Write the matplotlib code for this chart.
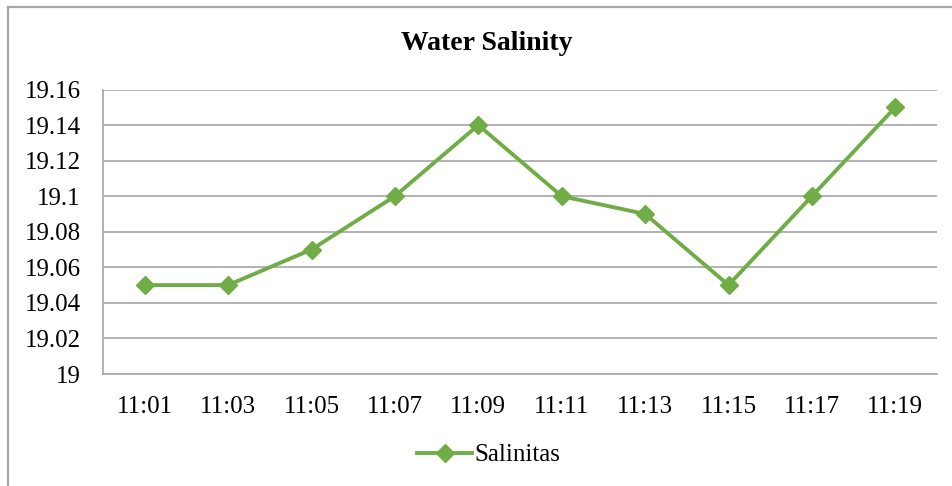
import numpy as np
import matplotlib
matplotlib.use('Agg')
from matplotlib import pyplot as plt
from matplotlib.lines import Line2D

times = ['11:01', '11:03', '11:05', '11:07', '11:09', '11:11', '11:13', '11:15', '11:17', '11:19']
salinity = [19.05, 19.05, 19.07, 19.1, 19.14, 19.1, 19.09, 19.05, 19.1, 19.15]
yticks = [19, 19.02, 19.04, 19.06, 19.08, 19.1, 19.12, 19.14, 19.16]
ylabels = ['19', '19.02', '19.04', '19.06', '19.08', '19.1', '19.12', '19.14', '19.16']

plt.rcParams['font.family'] = ['Liberation Serif', 'DejaVu Serif']

green = '#70AD47'
grid = '#A6A6A6'

fig = plt.figure(figsize=(9.53, 4.86), dpi=100)
ax = fig.add_axes([103 / 953, 1 - 374 / 486, 834 / 953, 284.5 / 486])

x = np.arange(len(times))
ax.plot(x, salinity, color=green, lw=2.8, marker='D', ms=9, label='Salinitas')

ax.set_xlim(-0.5, len(times) - 0.5)
ax.set_ylim(19, 19.16)
ax.set_yticks(yticks)
ax.set_yticklabels(ylabels)
ax.set_xticks(x)
ax.set_xticklabels(times)
ax.tick_params(axis='both', length=0, labelsize=18, colors='black')
ax.tick_params(axis='y', pad=16)
ax.tick_params(axis='x', pad=15.5)
ax.grid(axis='y', color=grid, lw=1.2)
ax.set_axisbelow(True)
for s in ['top', 'right']:
    ax.spines[s].set_visible(False)
for s in ['left', 'bottom']:
    ax.spines[s].set_color(grid)
    ax.spines[s].set_linewidth(1.2)

fig.text(487 / 953, 1 - 44 / 486, 'Water Salinity', ha='center', va='center',
         fontsize=20, fontweight='bold')

fig.legend(handles=[Line2D([], [], color=green, lw=2.8, marker='D', ms=9)],
           labels=['Salinitas'], loc='center', bbox_to_anchor=(489 / 953, 1 - 455 / 486),
           frameon=False, fontsize=18, handlelength=2.2, handletextpad=0.1)

# outer border
fig.add_artist(Line2D([8.5 / 953, 8.5 / 953], [0, 1 - 7.5 / 486], color='#A6A6A6', lw=1.6,
                      transform=fig.transFigure))
fig.add_artist(Line2D([8.5 / 953, 1], [1 - 7.5 / 486, 1 - 7.5 / 486], color='#A6A6A6', lw=1.6,
                      transform=fig.transFigure))

fig.savefig('out.png', dpi=100)
